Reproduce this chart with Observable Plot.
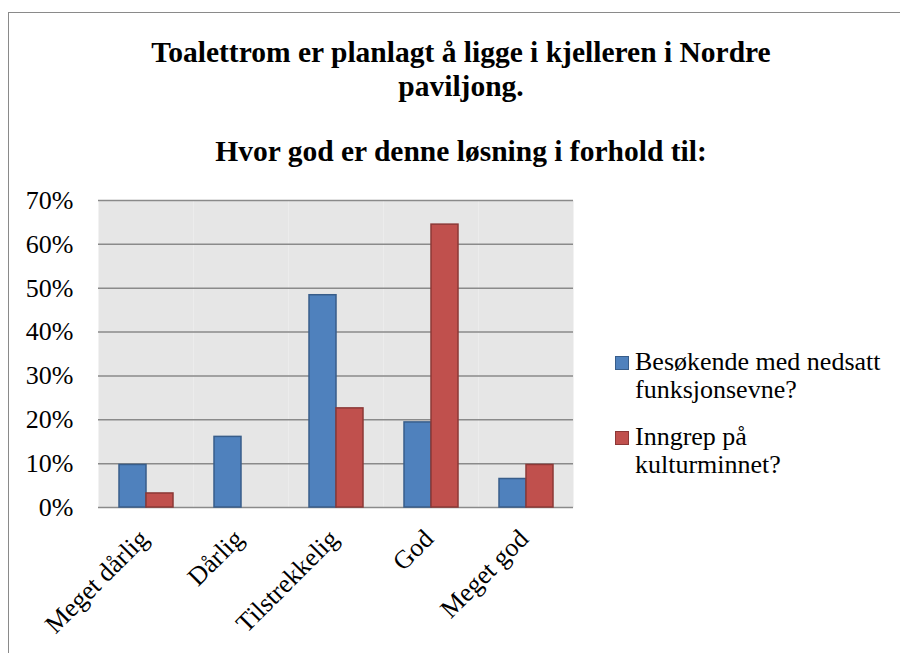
<!DOCTYPE html>
<html>
<head>
<meta charset="utf-8">
<script src="https://cdn.jsdelivr.net/npm/d3@7"></script>
<script src="https://cdn.jsdelivr.net/npm/@observablehq/plot@0.6"></script>
<style>
  html, body { margin: 0; padding: 0; background: #fff; }
  #wrap { position: relative; width: 900px; height: 653px; overflow: hidden; background: #fff;
          font-family: 'Liberation Serif', serif; color: #000; }
  #border { position: absolute; left: 8px; top: 12px; width: 1000px; height: 1000px;
            border: 1.5px solid #8a8a8a; box-sizing: border-box; }
  .title { position: absolute; left: 0; width: 922px; text-align: center; font-weight: bold;
           font-size: 29.5px; line-height: 34px; white-space: nowrap; font-family: 'Liberation Serif', serif; }
  #chart { position: absolute; left: 0; top: 180px; }
  #legend { position: absolute; left: 615px; top: 348px; font-size: 26px; line-height: 28px; font-family: 'Liberation Serif', serif; }
  .item { position: relative; padding-left: 20px; width: 258px; margin-bottom: 19px; }
  .sw { position: absolute; left: 0; top: 8px; width: 14px; height: 14px; box-sizing: border-box; border: 1.5px solid; }
  #chart svg text { font-family: 'Liberation Serif', serif; }
</style>
</head>
<body>
<div id="wrap">
  <div id="border"></div>
  <div class="title" id="t1" style="top:35px"></div>
  <div class="title" id="t2" style="top:134px"></div>
  <div id="chart"></div>
  <div id="legend"></div>
</div>
<script>
const titleLines = ["Toalettrom er planlagt å ligge i kjelleren i Nordre", "paviljong."];
const subtitle = "Hvor god er denne løsning i forhold til:";
const categories = ["Meget dårlig", "Dårlig", "Tilstrekkelig", "God", "Meget god"];
const series = ["Besøkende med nedsatt funksjonsevne?", "Inngrep på kulturminnet?"];
const valuesBesokende = [0.097, 0.161, 0.484, 0.194, 0.065];
const valuesInngrep = [0.032, 0, 0.226, 0.645, 0.097];
const yTicks = [0, 0.1, 0.2, 0.3, 0.4, 0.5, 0.6, 0.7];
const fills = ["#4f81bd", "#c0504d"];
const strokes = ["#385d8a", "#8c3836"];

document.getElementById("t1").innerHTML = titleLines.join("<br>");
document.getElementById("t2").textContent = subtitle;

const seriesValues = [valuesBesokende, valuesInngrep];
const data = categories.flatMap((c, i) => series.map((s, j) => ({category: c, series: s, value: seriesValues[j][i]})));

const plot = Plot.plot({
  width: 590,
  height: 467,
  marginLeft: 97,
  marginRight: 17,
  marginTop: 20,
  marginBottom: 140,
  style: {fontFamily: "'Liberation Serif', serif", fontSize: "26px", color: "#000", background: "transparent", overflow: "visible"},
  fx: {domain: categories, padding: 0, label: null},
  x: {domain: series, paddingInner: 0, paddingOuter: 0.744, axis: null},
  y: {domain: [0, 0.7], label: null},
  marks: [
    Plot.frame({fill: "#e6e6e6", stroke: null}),
    Plot.ruleY(yTicks, {stroke: "#8a8a8a", strokeWidth: 1.5}),
    ...series.map((s, j) => Plot.barY(data.filter(d => d.series === s && d.value > 0), {
      fx: "category", x: "series", y: "value", fill: fills[j], stroke: strokes[j], strokeWidth: 1.5
    })),
    Plot.axisY({ticks: yTicks, tickFormat: d => Math.round(d * 100) + "%", tickSize: 0, tickPadding: 25,
      line: true, stroke: "#8a8a8a", fill: "#000", strokeWidth: 1.5, label: null, fontSize: 26}),
    Plot.axisFx({anchor: "bottom", tickRotate: -45, tickSize: 0, tickPadding: 27, dx: -2, label: null, fill: "#000", fontSize: 26})
  ]
});
document.getElementById("chart").appendChild(plot);

const legend = document.getElementById("legend");
series.forEach((s, j) => {
  const item = document.createElement("div");
  item.className = "item";
  const sw = document.createElement("span");
  sw.className = "sw";
  sw.style.background = fills[j];
  sw.style.borderColor = strokes[j];
  item.appendChild(sw);
  item.appendChild(document.createTextNode(s));
  legend.appendChild(item);
});
</script>
</body>
</html>
